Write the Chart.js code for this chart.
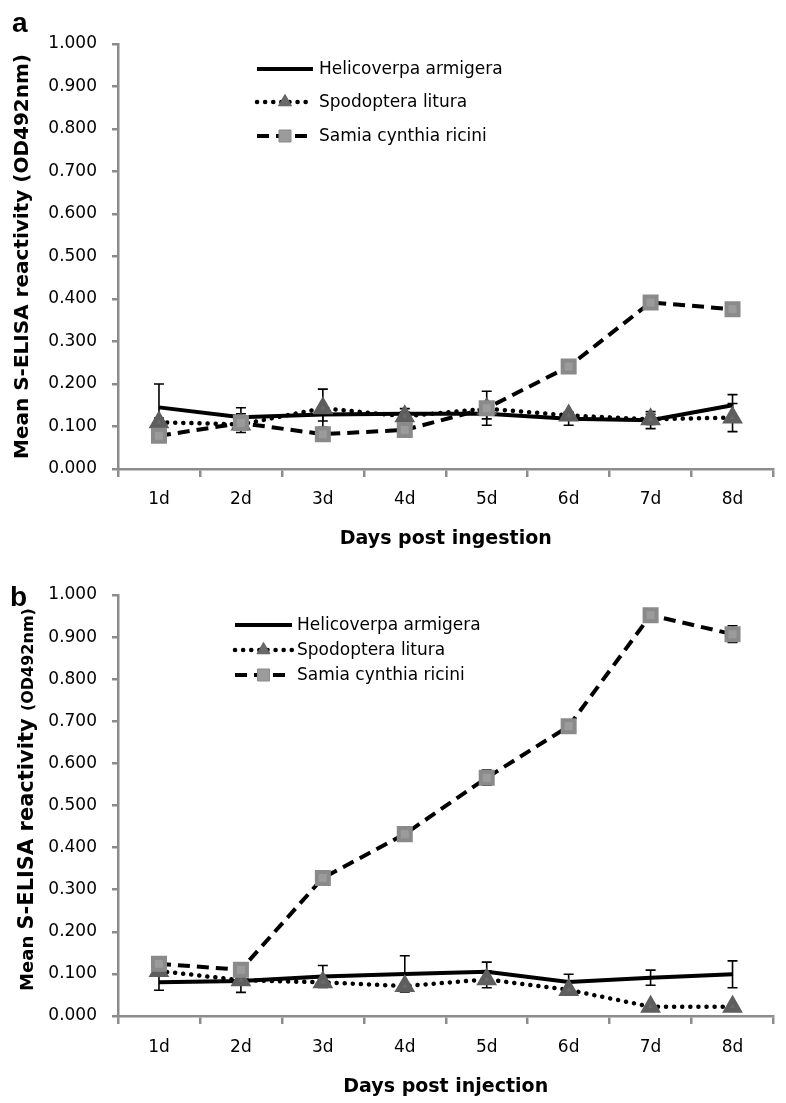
<!DOCTYPE html>
<html>
<head>
<meta charset="utf-8">
<script src="https://cdn.jsdelivr.net/npm/chart.js@4.4.1/dist/chart.umd.min.js"></script>
<style>
  html, body { margin: 0; padding: 0; background: #fff; }
  #wrap { position: relative; width: 786px; height: 1103px; }
  canvas { position: absolute; left: 0; }
</style>
</head>
<body>
<div id="wrap">
  <canvas id="chartA" width="786" height="560" style="top:0"></canvas>
  <canvas id="chartB" width="786" height="543" style="top:560px"></canvas>
</div>
<script>
// ---- data ----
const days = ['1d', '2d', '3d', '4d', '5d', '6d', '7d', '8d'];
const yTicks = [0, 0.1, 0.2, 0.3, 0.4, 0.5, 0.6, 0.7, 0.8, 0.9, 1.0];
const seriesNames = ['Helicoverpa armigera', 'Spodoptera litura', 'Samia cynthia ricini'];

// (a) days post ingestion
const haIngestion = [0.145, 0.122, 0.128, 0.130, 0.130, 0.118, 0.115, 0.150];
const slIngestion = [0.110, 0.105, 0.143, 0.124, 0.142, 0.126, 0.117, 0.121];
const scrIngestion = [0.078, 0.108, 0.082, 0.092, 0.143, 0.241, 0.392, 0.376];
const haIngestionErr = [0.055, 0.022, 0.015, 0.012, 0.012, 0.015, 0.020, 0.025];
const slIngestionErr = [0.010, 0.010, 0.045, 0.010, 0.010, 0.008, 0.012, 0.033];
const scrIngestionErr = [0.008, 0.022, 0.012, 0.005, 0.040, 0.012, 0.008, 0.005];

// (b) days post injection
const haInjection = [0.080, 0.083, 0.094, 0.100, 0.105, 0.081, 0.091, 0.099];
const slInjection = [0.107, 0.085, 0.080, 0.071, 0.087, 0.062, 0.022, 0.022];
const scrInjection = [0.124, 0.110, 0.328, 0.432, 0.566, 0.688, 0.952, 0.907];
const haInjectionErr = [0.019, 0.027, 0.026, 0.043, 0.023, 0.018, 0.018, 0.032];
const slInjectionErr = [0.008, 0.005, 0.005, 0.005, 0.020, 0.005, 0.004, 0.004];
const scrInjectionErr = [0.012, 0.005, 0.007, 0.015, 0.018, 0.010, 0.010, 0.020];

const AXIS = '#8c8c8c';
const FONT = '"DejaVu Sans", Verdana, sans-serif';

function drawMarker(ctx, style, r, fill, stroke, x, y) {
    ctx.save();
    ctx.beginPath();
    if (style === 'triangle') {
        ctx.moveTo(x, y - r);
        ctx.lineTo(x + 0.866 * r, y + 0.5 * r);
        ctx.lineTo(x - 0.866 * r, y + 0.5 * r);
        ctx.closePath();
    } else if (style === 'rect') {
        const s = Math.SQRT1_2 * r;
        ctx.rect(x - s, y - s, 2 * s, 2 * s);
    } else {
        ctx.restore();
        return;
    }
    ctx.fillStyle = fill;
    ctx.fill();
    ctx.lineWidth = 1;
    ctx.strokeStyle = stroke;
    ctx.stroke();
    ctx.restore();
}

// error bars, drawn under the lines and markers
const errorBars = {
    id: 'errorBars',
    beforeDatasetsDraw(chart) {
        const ctx = chart.ctx;
        const y = chart.scales.y;
        ctx.save();
        ctx.strokeStyle = '#000';
        ctx.lineWidth = 1.6;
        chart.data.datasets.forEach((ds, i) => {
            const meta = chart.getDatasetMeta(i);
            meta.data.forEach((pt, j) => {
                const err = ds.errors[j];
                const top = y.getPixelForValue(ds.data[j] + err);
                const bot = y.getPixelForValue(ds.data[j] - err);
                ctx.beginPath();
                ctx.moveTo(pt.x, top); ctx.lineTo(pt.x, bot);
                ctx.moveTo(pt.x - 5, top); ctx.lineTo(pt.x + 5, top);
                ctx.moveTo(pt.x - 5, bot); ctx.lineTo(pt.x + 5, bot);
                ctx.stroke();
            });
        });
        ctx.restore();
    }
};

// legend with line + marker samples, placed inside the plot
const sampleLegend = {
    id: 'sampleLegend',
    afterDraw(chart, args, opts) {
        const ctx = chart.ctx;
        chart.data.datasets.forEach((ds, i) => {
            const y = opts.rows[i];
            ctx.save();
            ctx.beginPath();
            ctx.setLineDash(ds.borderDash || []);
            ctx.lineCap = ds.borderCapStyle || 'butt';
            ctx.lineWidth = ds.borderWidth;
            ctx.strokeStyle = ds.borderColor;
            ctx.moveTo(opts.x0, y);
            ctx.lineTo(opts.x1, y);
            ctx.stroke();
            ctx.restore();
            drawMarker(ctx, ds.pointStyle, ds.pointRadius, ds.pointBackgroundColor,
                ds.pointBorderColor, (opts.x0 + opts.x1) / 2, y);
            ctx.save();
            ctx.fillStyle = '#000';
            ctx.font = opts.font;
            ctx.textBaseline = 'middle';
            ctx.fillText(ds.label, opts.textX, y + 1);
            ctx.restore();
        });
    }
};

// panel letter and (optionally) a y title set in mixed sizes
const panelText = {
    id: 'panelText',
    afterDraw(chart, args, opts) {
        const ctx = chart.ctx;
        ctx.save();
        ctx.fillStyle = '#000';
        ctx.font = 'bold 28px "Liberation Sans", Arial, sans-serif';
        ctx.fillText(opts.letter, opts.letterX, opts.letterY);
        ctx.restore();
        if (!opts.yTitle) return;
        const parts = opts.yTitle;
        const area = chart.chartArea;
        ctx.save();
        ctx.fillStyle = '#000';
        let total = 0;
        parts.forEach(p => { ctx.font = 'bold ' + p.size + 'px ' + FONT; total += ctx.measureText(p.text).width; });
        ctx.translate(opts.titleX, (area.top + area.bottom) / 2 + opts.titleShift);
        ctx.rotate(-Math.PI / 2);
        ctx.textBaseline = 'alphabetic';
        let x = -total / 2;
        parts.forEach(p => {
            ctx.font = 'bold ' + p.size + 'px ' + FONT;
            ctx.fillText(p.text, x, 0);
            x += ctx.measureText(p.text).width;
        });
        ctx.restore();
    }
};

function makeDatasets(ha, sl, scr, haErr, slErr, scrErr) {
    return [{
        label: seriesNames[0],
        data: ha, errors: haErr,
        borderColor: '#000', borderWidth: 4,
        pointStyle: false, pointRadius: 0,
        order: 3
    }, {
        label: seriesNames[1],
        data: sl, errors: slErr,
        borderColor: '#000', borderWidth: 4.5,
        borderDash: [0.1, 8], borderCapStyle: 'round',
        pointStyle: 'triangle', pointRadius: 7.5,
        pointBackgroundColor: '#6a6a6a', pointBorderColor: '#5e5e5e',
        order: 2
    }, {
        label: seriesNames[2],
        data: scr, errors: scrErr,
        borderColor: '#000', borderWidth: 4,
        borderDash: [12, 7],
        pointStyle: 'rect', pointRadius: 8.5,
        pointBackgroundColor: '#9b9b9b', pointBorderColor: '#8a8a8a',
        order: 1
    }];
}

function makePanel(id, cfg) {
    const canvas = document.getElementById(id);
    const H = canvas.height;
    return new Chart(canvas, {
        type: 'line',
        data: {
            labels: days,
            datasets: makeDatasets(...cfg.series)
        },
        plugins: [errorBars, sampleLegend, panelText],
        options: {
            responsive: false,
            animation: false,
            devicePixelRatio: 1,
            events: [],
            layout: { padding: { top: cfg.top, right: 4, left: 0, bottom: 0 } },
            elements: { line: { tension: 0 } },
            scales: {
                x: {
                    offset: true,
                    afterFit: (s) => { s.height = H - cfg.bottom; },
                    grid: {
                        offset: true, drawOnChartArea: false,
                        color: AXIS, lineWidth: 2.5, tickLength: 8
                    },
                    border: { color: AXIS, width: 2.5 },
                    ticks: { color: '#000', font: { family: FONT, size: 17 }, padding: cfg.xPad },
                    title: {
                        display: true, text: cfg.xTitle, color: '#000',
                        font: { family: FONT, size: 19, weight: 'bold' },
                        padding: { top: 0, bottom: cfg.xTitlePad }
                    }
                },
                y: {
                    min: 0, max: 1,
                    afterFit: (s) => { s.width = 118; },
                    afterBuildTicks: (s) => { s.ticks = yTicks.map(v => ({ value: v })); },
                    grid: { drawOnChartArea: false, color: AXIS, lineWidth: 2.5, tickLength: 6 },
                    border: { color: AXIS, width: 2.5 },
                    ticks: {
                        color: '#000', padding: 15,
                        font: { family: FONT, size: 17 },
                        callback: (v) => Number(v).toFixed(3)
                    },
                    title: {
                        display: !cfg.text.yTitle, text: 'Mean S-ELISA reactivity (OD492nm)', color: '#000',
                        font: { family: FONT, size: 20, weight: 'bold' },
                        padding: { top: 11, bottom: 0 }
                    }
                }
            },
            plugins: {
                legend: { display: false },
                tooltip: { enabled: false },
                sampleLegend: cfg.legend,
                panelText: cfg.text
            }
        }
    });
}

makePanel('chartA', {
    series: [haIngestion, slIngestion, scrIngestion, haIngestionErr, slIngestionErr, scrIngestionErr],
    top: 44, bottom: 469, xPad: 12, xTitlePad: 10,
    xTitle: 'Days post ingestion',
    legend: { x0: 257, x1: 313, textX: 319, rows: [69, 102, 136], font: '17px ' + FONT },
    text: { letter: 'a', letterX: 12, letterY: 32 }
});

makePanel('chartB', {
    series: [haInjection, slInjection, scrInjection, haInjectionErr, slInjectionErr, scrInjectionErr],
    top: 35, bottom: 456, xPad: 13, xTitlePad: 5,
    xTitle: 'Days post injection',
    legend: { x0: 235, x1: 292, textX: 297, rows: [65, 90, 115], font: '17px ' + FONT },
    text: {
        letter: 'b', letterX: 10, letterY: 46,
        titleX: 33, titleShift: -6,
        yTitle: [
            { text: 'Mean ', size: 18 },
            { text: 'S-ELISA reactivity ', size: 21 },
            { text: '(OD492nm)', size: 16 }
        ]
    }
});
</script>
</body>
</html>
